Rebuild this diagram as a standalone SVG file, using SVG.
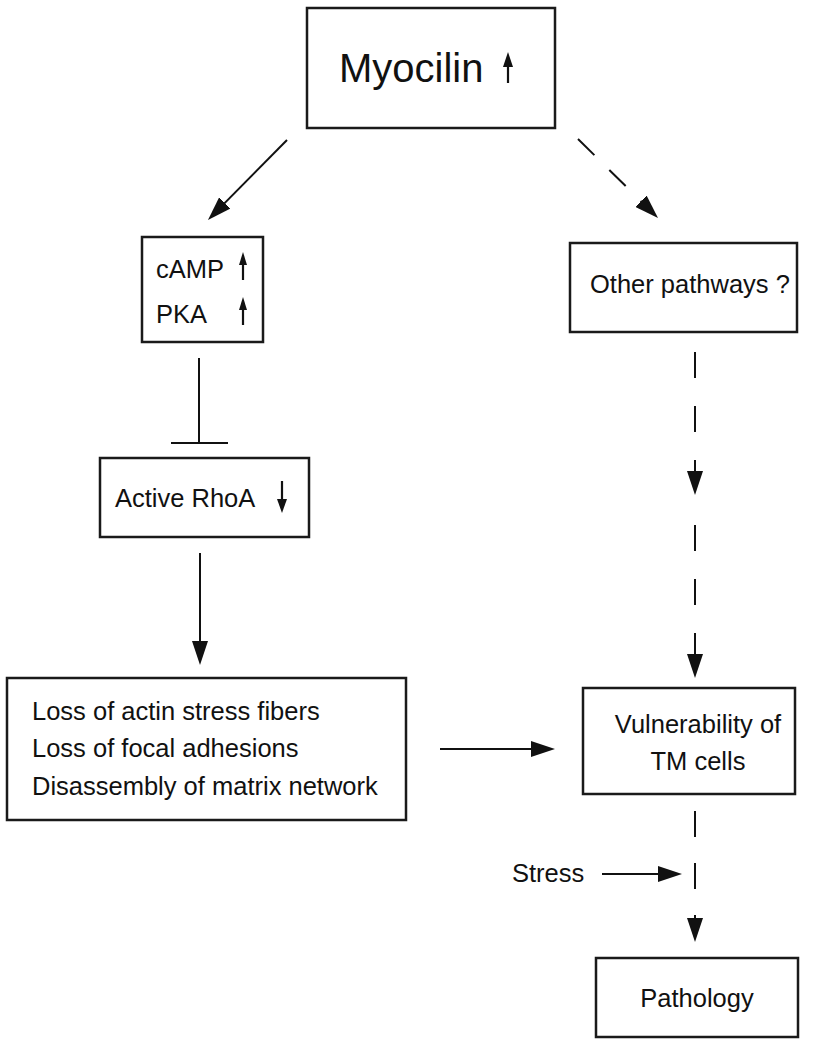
<svg xmlns="http://www.w3.org/2000/svg" width="825" height="1050" viewBox="0 0 825 1050">
<style>
.box{fill:#fff;stroke:#1a1a1a;stroke-width:2.5}
.t{font-family:"Liberation Sans",Arial,sans-serif;font-size:25.5px;fill:#111}
.big{font-size:40px}
.ln{fill:none;stroke:#111;stroke-width:2}
.dash{stroke-dasharray:26 28}
.sm{fill:none;stroke:#111;stroke-width:2.2}
.hd{fill:#111;stroke:none}
</style>
<defs>
<marker id="ah" viewBox="0 0 24 16" refX="14" refY="8" markerWidth="24" markerHeight="16" markerUnits="userSpaceOnUse" orient="auto">
<path d="M0,0 L24,8 L0,16 z" fill="#111"/>
</marker>
</defs>
<rect width="825" height="1050" fill="#fff"/>

<g id="myocilin">
<rect class="box" x="307" y="8" width="248" height="120"/>
<text class="t big" x="339" y="82">Myocilin</text>
<line class="sm" x1="508" y1="64" x2="508" y2="83"/>
<polygon class="hd" points="508,52 503,67 513,67"/>
</g>

<g id="camp-pka">
<rect class="box" x="142" y="237" width="121" height="105"/>
<text class="t" x="156" y="278">cAMP</text>
<text class="t" x="156" y="323">PKA</text>
<line class="sm" x1="243" y1="262" x2="243" y2="280"/>
<polygon class="hd" points="243,252 239,265 247,265"/>
<line class="sm" x1="243" y1="307" x2="243" y2="325"/>
<polygon class="hd" points="243,297 239,310 247,310"/>
</g>

<g id="other-pathways">
<rect class="box" x="570" y="243" width="227" height="89"/>
<text class="t" x="590" y="293">Other pathways ?</text>
</g>

<g id="active-rhoa">
<rect class="box" x="100" y="458" width="209" height="79"/>
<text class="t" x="115" y="507">Active RhoA</text>
<line class="sm" x1="282" y1="481" x2="282" y2="502"/>
<polygon class="hd" points="282,513 277,499 287,499"/>
</g>

<g id="loss">
<rect class="box" x="7" y="678" width="399" height="142"/>
<text class="t" x="32" y="720">Loss of actin stress fibers</text>
<text class="t" x="32" y="757">Loss of focal adhesions</text>
<text class="t" x="32" y="795">Disassembly of matrix network</text>
</g>

<g id="vulnerability">
<rect class="box" x="583" y="688" width="212" height="106"/>
<text class="t" x="698" y="733" text-anchor="middle">Vulnerability of</text>
<text class="t" x="698" y="770" text-anchor="middle">TM cells</text>
</g>

<g id="stress">
<text class="t" x="512" y="882">Stress</text>
</g>

<g id="pathology">
<rect class="box" x="596" y="958" width="202" height="79"/>
<text class="t" x="697" y="1007" text-anchor="middle">Pathology</text>
</g>

<g id="connectors">
<line class="ln" x1="287" y1="140" x2="215" y2="212.9" marker-end="url(#ah)"/>
<line class="ln" x1="578" y1="139" x2="650.9" y2="211" stroke-dasharray="23 21" marker-end="url(#ah)"/>
<line class="ln" x1="199" y1="358" x2="199" y2="443"/>
<line class="ln" x1="171" y1="443" x2="228" y2="443"/>
<line class="ln" x1="200" y1="553" x2="200" y2="655" marker-end="url(#ah)"/>
<line class="ln dash" x1="695" y1="352" x2="695" y2="485" marker-end="url(#ah)"/>
<line class="ln dash" x1="695" y1="525" x2="695" y2="668" marker-end="url(#ah)"/>
<line class="ln" x1="440" y1="749" x2="545" y2="749" marker-end="url(#ah)"/>
<line class="ln" x1="695" y1="811" x2="695" y2="932" stroke-dasharray="26 26" marker-end="url(#ah)"/>
<line class="ln" x1="602" y1="874" x2="672" y2="874" marker-end="url(#ah)"/>
</g>
</svg>
